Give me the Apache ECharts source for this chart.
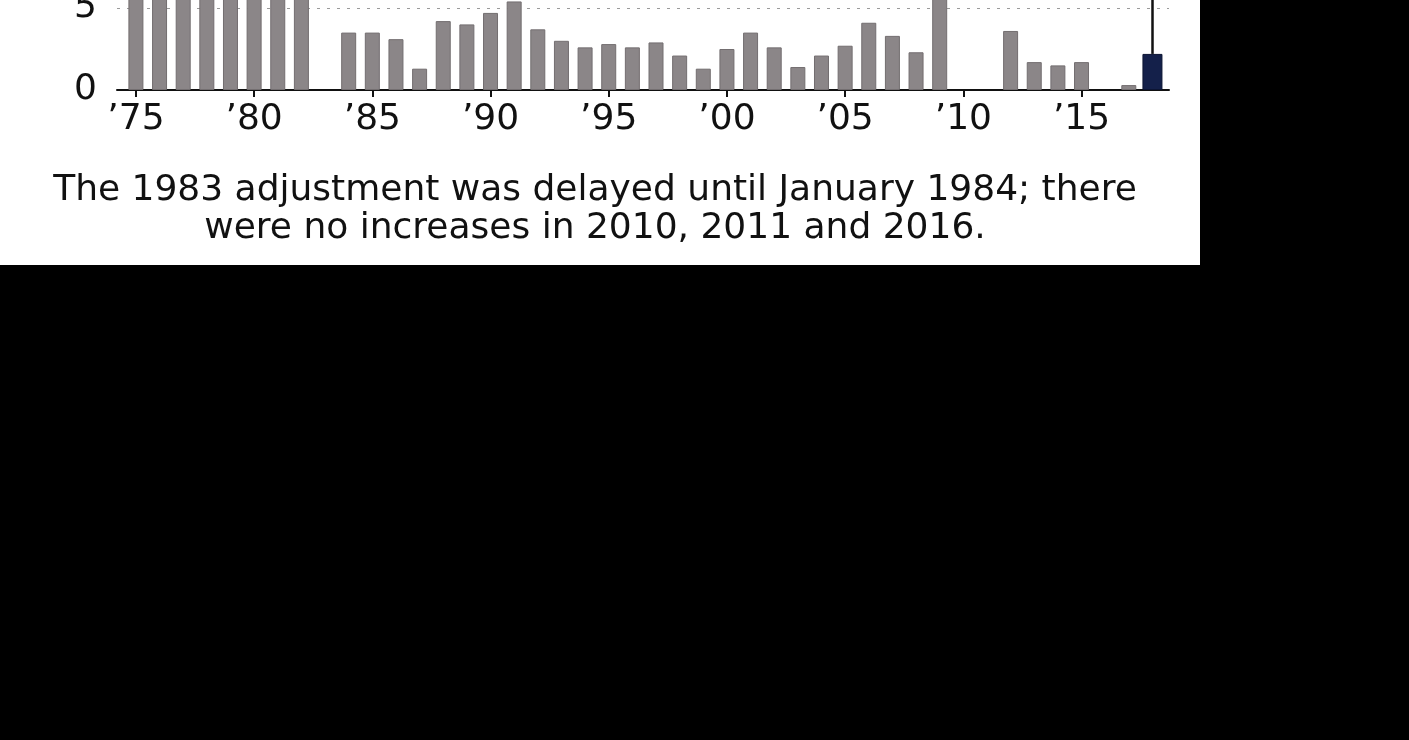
<!DOCTYPE html>
<html>
  <head>
    <meta charset="UTF-8">
    <script src="https://cdn.jsdelivr.net/npm/echarts@6/dist/echarts.min.js"></script>
    <title>Annual increases</title>
    <style>
      body { margin: 0; background: #000; }
      #frame { position: absolute; left: 0; top: 0; width: 1200px; height: 265px; background: #fff; overflow: hidden; }
      #main { position: absolute; left: 0; top: -200px; width: 1200px; height: 465px; }
    </style>
  </head>

  <body>
    <div id="frame"><div id="main"></div></div>
    <script type="text/javascript">
      // yearly increase, percent (years with no increase are 0)
      var years = [
        1975, 1976, 1977, 1978, 1979, 1980, 1981, 1982, 1983, 1984,
        1985, 1986, 1987, 1988, 1989, 1990, 1991, 1992, 1993, 1994,
        1995, 1996, 1997, 1998, 1999, 2000, 2001, 2002, 2003, 2004,
        2005, 2006, 2007, 2008, 2009, 2010, 2011, 2012, 2013, 2014,
        2015, 2016, 2017, 2018
      ];
      var increases = [
        8.0, 6.4, 5.9, 6.5, 9.9, 14.3, 11.2, 7.4, 0, 3.5,
        3.5, 3.1, 1.3, 4.2, 4.0, 4.7, 5.4, 3.7, 3.0, 2.6,
        2.8, 2.6, 2.9, 2.1, 1.3, 2.5, 3.5, 2.6, 1.4, 2.1,
        2.7, 4.1, 3.3, 2.3, 5.8, 0, 0, 3.6, 1.7, 1.5,
        1.7, 0, 0.3, 2.2
      ];
      var highlightYear = 2018;
      var tickYears = [1975, 1980, 1985, 1990, 1995, 2000, 2005, 2010, 2015];
      var caption = 'The 1983 adjustment was delayed until January 1984; there\nwere no increases in 2010, 2011 and 2016.';

      var grayData = [];
      var darkData = [];
      for (let i = 0; i < years.length; i++) {
        if (years[i] === highlightYear) darkData.push([years[i], increases[i]]);
        else if (increases[i] > 0) grayData.push([years[i], increases[i]]);
      }
      var hiValue = increases[years.indexOf(highlightYear)];

      var myChart = echarts.init(document.getElementById('main'));

      var labelFont = 'DejaVu Sans';
      var option = {
        animation: false,
        backgroundColor: 'transparent',
        grid: { left: 117, right: 31, top: 44, bottom: 175 },
        xAxis: [{
          type: 'value',
          min: 1974.2,
          max: 2018.7,
          splitLine: { show: false },
          axisLine: { lineStyle: { color: '#111', width: 2 } },
          axisTick: { customValues: tickYears, length: 7, lineStyle: { color: '#111', width: 2 } },
          axisLabel: {
            customValues: tickYears,
            margin: 12,
            fontSize: 36,
            fontFamily: labelFont,
            color: '#111',
            formatter: function (v) { return '\u2019' + String(v).slice(2); }
          }
        }, {
          type: 'value',
          min: 1974.2,
          max: 2018.7,
          show: false
        }],
        yAxis: {
          type: 'value',
          min: 0,
          max: 15,
          interval: 5,
          axisLine: { show: false },
          axisTick: { show: false },
          axisLabel: { margin: 20, fontSize: 36, fontFamily: labelFont, color: '#111' },
          splitLine: {
            lineStyle: { color: '#9a9a9a', width: 1, type: [3, 7] },
            showMinLine: false
          }
        },
        series: [{
          type: 'bar',
          xAxisIndex: 0,
          barWidth: 15,
          data: grayData,
          itemStyle: { color: '#8b8688', borderColor: '#736e70', borderWidth: 1 },
          z: 2
        }, {
          type: 'bar',
          xAxisIndex: 1,
          barWidth: 20,
          data: darkData,
          itemStyle: { color: '#14204a', borderColor: '#0c1433', borderWidth: 1 },
          markLine: {
            silent: true,
            symbol: 'none',
            label: { show: false },
            lineStyle: { color: '#111', width: 2.5, type: 'solid' },
            data: [[
              { coord: [highlightYear, hiValue] },
              { coord: [highlightYear, 15] }
            ]]
          },
          z: 3
        }],
        graphic: [{
          type: 'text',
          x: 595,
          y: 372,
          style: {
            text: caption,
            fontSize: 36,
            fontFamily: labelFont,
            lineHeight: 38,
            fill: '#111',
            align: 'center',
            verticalAlign: 'top'
          }
        }]
      };

      myChart.setOption(option);
    </script>
  </body>
</html>
